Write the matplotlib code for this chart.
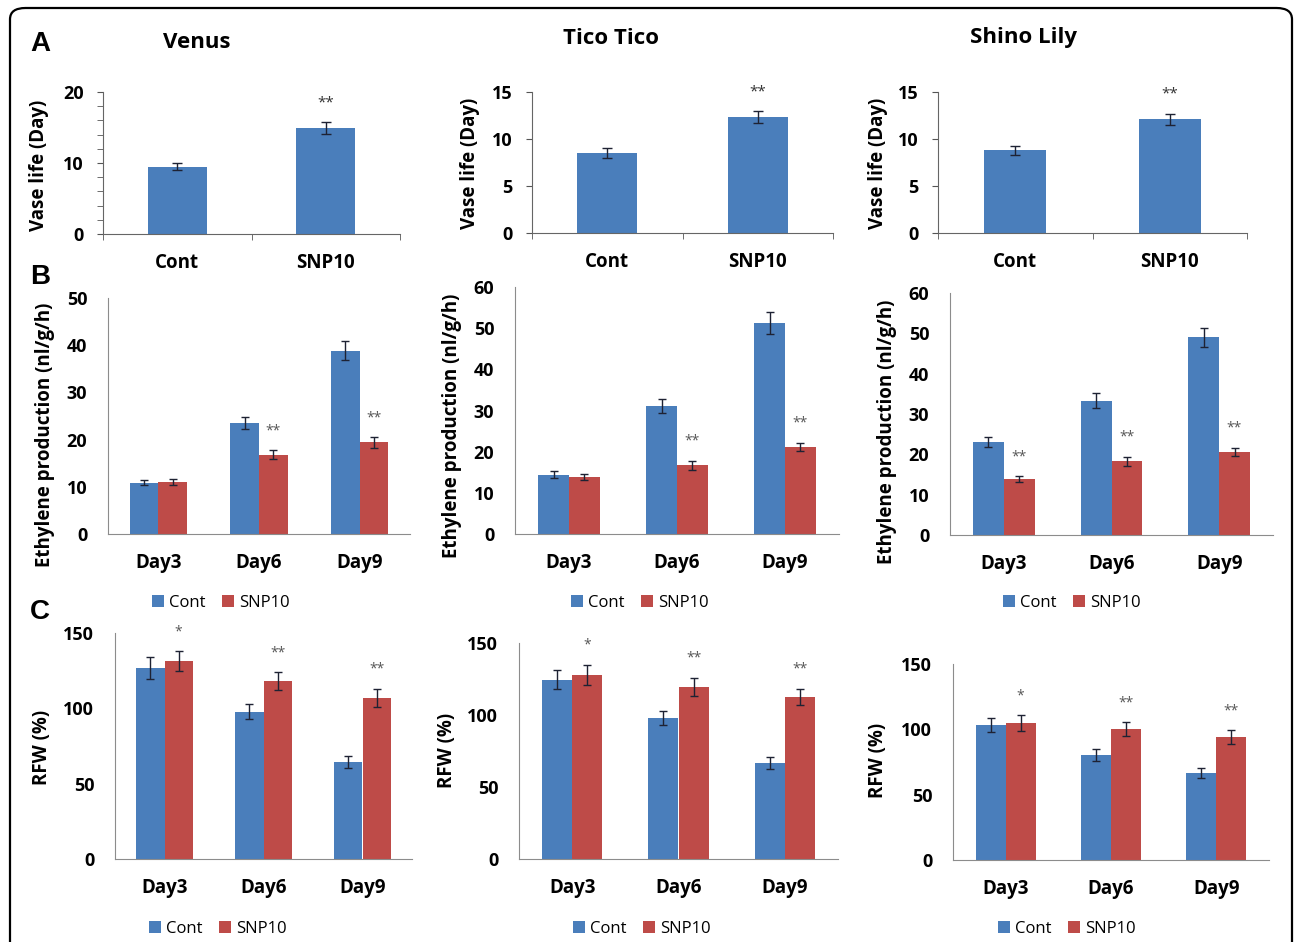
import matplotlib
matplotlib.use('Agg')
import matplotlib.pyplot as plt
from matplotlib.patches import FancyBboxPatch
from matplotlib.ticker import MultipleLocator
import numpy as np

plt.rcParams['font.family'] = ['Open Sans', 'DejaVu Sans']

# ---- data ----
cultivars = ['Venus', 'Tico Tico', 'Shino Lily']
treatments = ['Cont', 'SNP10']
days = ['Day3', 'Day6', 'Day9']

# A: vase life (day), [Cont, SNP10]
vase_life = [[9.5, 14.9], [8.5, 12.3], [8.8, 12.1]]
vase_err = [[0.55, 0.85], [0.55, 0.65], [0.45, 0.6]]
vase_stars = ['', '**']
vase_ymax = [20, 15, 15]
vase_step = [10, 5, 5]

# B: ethylene production (nl/g/h)
eth_cont = [[10.9, 23.5, 38.8], [14.4, 31.1, 51.3], [23.0, 33.3, 49.0]]
eth_cont_err = [[0.6, 1.2, 2.0], [0.9, 1.8, 2.6], [1.2, 1.8, 2.4]]
eth_snp = [[11.0, 16.8, 19.4], [13.8, 16.7, 21.2], [13.9, 18.3, 20.6]]
eth_snp_err = [[0.7, 0.9, 1.1], [0.8, 1.1, 1.0], [0.7, 1.1, 1.0]]
eth_stars = [['', '**', '**'], ['', '**', '**'], ['**', '**', '**']]
eth_ymax = [50, 60, 60]

# C: relative fresh weight (%)
rfw_cont = [[126.8, 97.8, 64.2], [124.5, 97.9, 66.7], [103.0, 80.0, 66.7]]
rfw_cont_err = [[7.0, 5.0, 4.0], [6.5, 5.0, 4.4], [5.4, 4.6, 4.0]]
rfw_snp = [[131.2, 117.9, 106.9], [128.0, 119.4, 112.5], [104.8, 100.2, 93.8]]
rfw_snp_err = [[6.6, 6.0, 6.0], [7.0, 6.5, 5.8], [5.9, 5.4, 5.4]]
rfw_stars = ['*', '**', '**']

BLUE = '#4a7ebb'
RED = '#be4b48'
ERR = '#1e2233'

W, H = 1295, 942
fig = plt.figure(figsize=(W / 100, H / 100), dpi=100)


def px_axes(x0, y0, x1, y1):
    """axes from pixel box (top-left origin)"""
    return fig.add_axes([x0 / W, 1 - y1 / H, (x1 - x0) / W, (y1 - y0) / H])


def ylabel_at(ax, text, xpx, ypx):
    # label centred on a given pixel position
    ax.set_ylabel(text, fontsize=13.5, fontweight='bold', va='center')
    ax.yaxis.set_label_coords(xpx / W, 1 - ypx / H, transform=fig.transFigure)


def star(ax, x, y, s, size=10, color='#555555', off=14):
    if s:
        ax.annotate(s, (x, y), xytext=(0, off), textcoords='offset points',
                    ha='center', va='center', fontsize=size, color=color)


# ---- row A: vase life ----
rows_a = [(103, 92, 400, 234), (532, 92, 833, 233), (938, 92, 1247, 233)]
lab_a = [(39, 165), (470, 163), (878, 163)]
for i, box in enumerate(rows_a):
    ax = px_axes(*box)
    x = np.arange(len(treatments))
    ax.bar(x, vase_life[i], width=0.4, color=BLUE)
    ax.errorbar(x, vase_life[i], yerr=vase_err[i], fmt='none', ecolor=ERR,
                elinewidth=1, capsize=3.5, capthick=1)
    for j in x:
        star(ax, j, vase_life[i][j] + vase_err[i][j], vase_stars[j],
             size=11, color='#333333', off=14)
    ax.set_xlim(-0.5, 1.5)
    ax.set_ylim(0, vase_ymax[i])
    ax.yaxis.set_major_locator(MultipleLocator(vase_step[i]))
    if i == 0:
        ax.yaxis.set_minor_locator(MultipleLocator(2))
    ax.set_xticks(x)
    ax.set_xticklabels(treatments, fontsize=13.5, fontweight='bold')
    ax.set_xticks([-0.5, 0.5, 1.5], minor=True)
    ax.tick_params(axis='x', which='major', length=0, pad=14)
    ax.tick_params(axis='x', which='minor', length=4, direction='out', color='#555555')
    ax.tick_params(axis='y', which='both', length=4, direction='out', color='#555555',
                   labelsize=13, pad=10)
    for lab in ax.get_yticklabels():
        lab.set_fontweight('bold')
    for sp in ['top', 'right']:
        ax.spines[sp].set_visible(False)
    for sp in ['left', 'bottom']:
        ax.spines[sp].set_color('#666666')
    ylabel_at(ax, 'Vase life (Day)', *lab_a[i])

fig.text(197 / W, 1 - 42 / H, cultivars[0], ha='center', va='center', fontsize=16, fontweight='bold')
fig.text(611 / W, 1 - 38 / H, cultivars[1], ha='center', va='center', fontsize=16, fontweight='bold')
fig.text(1023 / W, 1 - 38 / H, cultivars[2], ha='center', va='center', fontsize=16, fontweight='bold')


def grouped(ax, cont, cont_err, snp, snp_err, stars, ymax, step):
    x = np.arange(len(days))
    w = 0.285
    ax.bar(x - w / 2, cont, width=w, color=BLUE, label=treatments[0])
    ax.bar(x + w / 2, snp, width=w, color=RED, label=treatments[1])
    ax.errorbar(x - w / 2, cont, yerr=cont_err, fmt='none', ecolor=ERR,
                elinewidth=1, capsize=3, capthick=1)
    ax.errorbar(x + w / 2, snp, yerr=snp_err, fmt='none', ecolor=ERR,
                elinewidth=1, capsize=3, capthick=1)
    for j in x:
        star(ax, j + w / 2, snp[j] + snp_err[j], stars[j])
    ax.set_xlim(-0.5, 2.5)
    ax.set_ylim(0, ymax)
    ax.yaxis.set_major_locator(MultipleLocator(step))
    ax.set_xticks(x)
    ax.set_xticklabels(days, fontsize=13.5, fontweight='bold')
    ax.tick_params(axis='x', length=0, pad=14)
    ax.tick_params(axis='y', length=0, labelsize=13, pad=15)
    for lab in ax.get_yticklabels():
        lab.set_fontweight('bold')
    for sp in ['top', 'right']:
        ax.spines[sp].set_visible(False)
    for sp in ['left', 'bottom']:
        ax.spines[sp].set_color('#8c8c8c')


def legend_at(ax, cx, cy):
    ax.legend(loc='center', bbox_to_anchor=(cx / W, 1 - cy / H), bbox_transform=fig.transFigure,
              ncol=2, frameon=False, fontsize=12, handlelength=0.7, handleheight=0.7,
              handletextpad=0.3, columnspacing=1.0, borderpad=0)


# ---- row B: ethylene ----
rows_b = [(108, 298, 410, 534), (515, 287, 839, 534), (950, 293, 1273, 535)]
lab_b = [(45, 435), (452, 426), (887, 432)]
leg_b = [(221, 603), (640, 603), (1072, 603)]
for i, box in enumerate(rows_b):
    ax = px_axes(*box)
    grouped(ax, eth_cont[i], eth_cont_err[i], eth_snp[i], eth_snp_err[i],
            eth_stars[i], eth_ymax[i], 10)
    ylabel_at(ax, 'Ethylene production (nl/g/h)', *lab_b[i])
    legend_at(ax, *leg_b[i])

# ---- row C: RFW ----
rows_c = [(115, 633, 412, 859), (519, 643, 838, 859), (953, 664, 1269, 860)]
lab_c = [(42, 747), (447, 750), (878, 760)]
leg_c = [(218, 929), (642, 929), (1067, 929)]
for i, box in enumerate(rows_c):
    ax = px_axes(*box)
    grouped(ax, rfw_cont[i], rfw_cont_err[i], rfw_snp[i], rfw_snp_err[i],
            rfw_stars, 150, 50)
    ylabel_at(ax, 'RFW (%)', *lab_c[i])
    legend_at(ax, *leg_c[i])

# panel letters
for letter, y in zip(['A', 'B', 'C'], [44, 277, 612]):
    fig.text(40 / W, 1 - y / H, letter, ha='center', va='center', fontsize=20,
             fontweight='bold', family='Liberation Sans')

# outer rounded frame
frame = FancyBboxPatch((10 / W, -0.05), 1282 / W, 1 - 8 / H + 0.05,
                       boxstyle='round,pad=0,rounding_size=0.012',
                       transform=fig.transFigure, fill=False, lw=1.6, ec='black')
fig.patches.append(frame)

plt.savefig('out.png', dpi=100)
